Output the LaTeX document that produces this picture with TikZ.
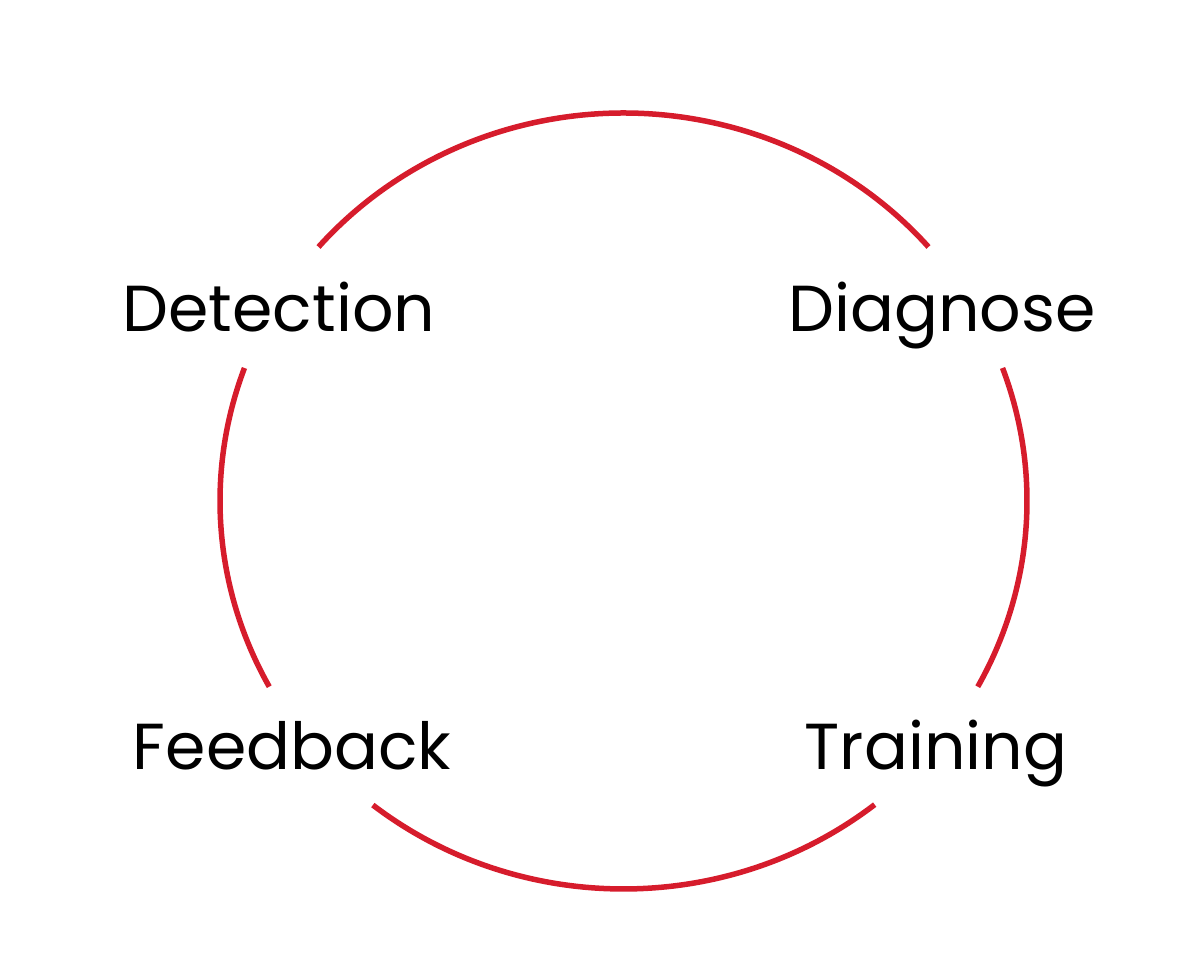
\documentclass[tikz,border=0pt]{standalone}
\usepackage{fontspec}
\setmainfont{Poppins}
\definecolor{ringred}{RGB}{214,28,44}
\begin{document}
\begin{tikzpicture}[x=1pt,y=1pt,
  ring/.style={draw=ringred,line width=5.5pt},
  lbl/.style={anchor=base,inner sep=0pt,font=\fontsize{65}{70}\selectfont,text=black}]
\useasboundingbox (0,0) rectangle (1188,960);
\coordinate (c) at (623.5,459);
\draw[ring] ([shift={(40.9:403.5pt and 388pt)}]c) arc[start angle=40.9,end angle=139.1,x radius=403.5pt,y radius=388pt];
\draw[ring] ([shift={(159.95:403.5pt and 388pt)}]c) arc[start angle=159.95,end angle=208.6,x radius=403.5pt,y radius=388pt];
\draw[ring] ([shift={(231.6:403.5pt and 388pt)}]c) arc[start angle=231.6,end angle=308.5,x radius=403.5pt,y radius=388pt];
\draw[ring] ([shift={(-28.6:403.5pt and 388pt)}]c) arc[start angle=-28.6,end angle=20.05,x radius=403.5pt,y radius=388pt];
\node[lbl] (detection) at (279,628) {Detection};
\node[lbl] (diagnose) at (942,628) {Diagnose};
\node[lbl] (feedback) at (292,190) {Feedback};
\node[lbl] (training) at (936,190) {Training};
\end{tikzpicture}
\end{document}
